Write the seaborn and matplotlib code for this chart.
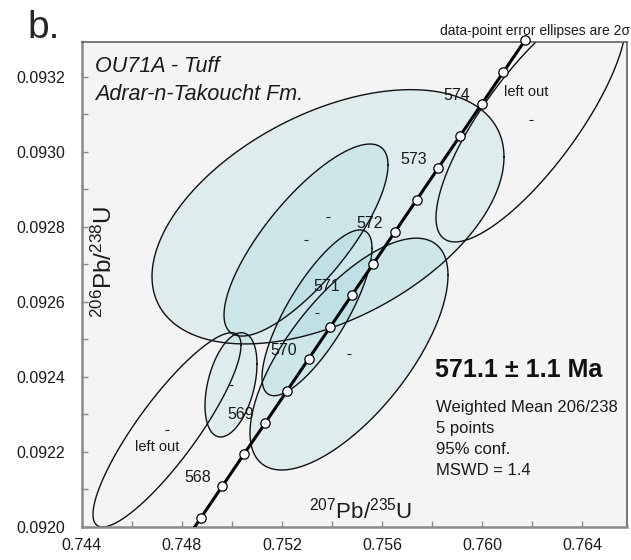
import numpy as np
import pandas as pd
import matplotlib
matplotlib.use('Agg')
import matplotlib.pyplot as plt
from matplotlib.ticker import MultipleLocator, FormatStrFormatter
import seaborn as sns

# analyses: centre, 2-sigma errors and error correlation
spot_id = ['a1', 'a2', 'a3', 'a4', 'a5', 'lo1', 'lo2']
r207_235 = [0.75384, 0.75296, 0.75468, 0.75340, 0.74996, 0.76196, 0.74740]
r206_238 = [0.092827, 0.092765, 0.092461, 0.092571, 0.092379, 0.093085, 0.092259]
err_207 = [0.00704, 0.00328, 0.00396, 0.00220, 0.00104, 0.00380, 0.00296]
err_206 = [0.000339, 0.000256, 0.000309, 0.000221, 0.000139, 0.000325, 0.000259]
rho = [0.47, 0.78, 0.68, 0.78, 0.40, 0.80, 0.87]
used = [True, True, True, True, True, False, False]

# concordia points (Ma)
conc_age = [567.0, 567.5, 568.0, 568.5, 569.0, 569.5, 570.0, 570.5, 571.0,
            571.5, 572.0, 572.5, 573.0, 573.5, 574.0, 574.5, 575.0, 575.5]
conc_207 = [0.747889, 0.748752, 0.749613, 0.750475, 0.751337, 0.752200, 0.753063, 0.753926, 0.754790,
            0.755654, 0.756519, 0.757384, 0.758249, 0.759115, 0.759981, 0.760847, 0.761714, 0.762581]
conc_206 = [0.091939, 0.092024, 0.092109, 0.092194, 0.092278, 0.092363, 0.092448, 0.092533, 0.092618,
            0.092702, 0.092787, 0.092872, 0.092957, 0.093042, 0.093127, 0.093212, 0.093297, 0.093382]
label_ages = [568, 569, 570, 571, 572, 573, 574]

sns.set_style('ticks')
plt.rcParams['font.family'] = ['Liberation Sans', 'DejaVu Sans']
plt.rcParams['mathtext.fontset'] = 'custom'
plt.rcParams['mathtext.rm'] = 'Liberation Sans'
plt.rcParams['mathtext.it'] = 'Liberation Sans:italic'

fig = plt.figure(figsize=(6.31, 5.6), dpi=100)
ax = fig.add_axes([82 / 631, 33 / 560, 545 / 631, 485 / 560])
ax.set_facecolor('#f4f4f4')

t = np.linspace(0, 2 * np.pi, 300)
shapes = []
for i in range(len(spot_id)):
    ex = r207_235[i] + err_207[i] * np.cos(t)
    ey = r206_238[i] + err_206[i] * (rho[i] * np.cos(t) + np.sqrt(1 - rho[i] ** 2) * np.sin(t))
    shapes.append((ex, ey))

for i, (ex, ey) in enumerate(shapes):
    if used[i]:
        ax.fill(ex, ey, facecolor='#80ccd3', alpha=0.18, lw=0, zorder=1)
for i, (ex, ey) in enumerate(shapes):
    ax.plot(ex, ey, color='#111111', lw=1.0, zorder=2)

# small centre marks
sns.scatterplot(x=r207_235, y=r206_238, marker='_', s=12, color='#222222',
                linewidth=0.8, ax=ax, zorder=3, legend=False)

conc = pd.DataFrame({'age': conc_age, 'x': conc_207, 'y': conc_206})
sns.lineplot(data=conc, x='x', y='y', sort=False, color='black', lw=2.2,
             ax=ax, zorder=4, legend=False)
ticks = conc[(conc.age >= 567.5) & (conc.age <= 575.0)]
sns.scatterplot(data=ticks, x='x', y='y', s=45, color='white', edgecolor='black',
                linewidth=0.9, ax=ax, zorder=5, legend=False, clip_on=False)

for a in label_ages:
    row = conc[conc.age == a].iloc[0]
    ax.annotate(str(a), (row.x, row.y), xytext=(-18, 6), textcoords='offset points',
                ha='center', va='center', fontsize=11.5, color='#1a1a1a', zorder=6)

ax.text(r207_235[5] - 0.0002, r206_238[5] + 0.000075, 'left out', fontsize=10.5,
        ha='center', va='center', color='#1a1a1a')
ax.text(r207_235[6] - 0.0004, r206_238[6] - 0.000045, 'left out', fontsize=10.5,
        ha='center', va='center', color='#1a1a1a')

ax.set_xlim(0.744, 0.7658)
ax.set_ylim(0.0920, 0.093293)
ax.xaxis.set_major_locator(MultipleLocator(0.004))
ax.xaxis.set_minor_locator(MultipleLocator(0.002))
ax.yaxis.set_major_locator(MultipleLocator(0.0002))
ax.yaxis.set_minor_locator(MultipleLocator(0.0001))
ax.xaxis.set_major_formatter(FormatStrFormatter('%.3f'))
ax.yaxis.set_major_formatter(FormatStrFormatter('%.4f'))
ax.tick_params(which='both', direction='in', length=4, width=1, color='#8a8a8a',
               labelsize=11.5, labelcolor='#1a1a1a')
ax.tick_params(axis='y', pad=12)
ax.tick_params(axis='x', pad=8)
ax.set_xlabel('')
ax.set_ylabel('')
for s in ['left', 'bottom']:
    ax.spines[s].set_color('#8a8a8a')
    ax.spines[s].set_linewidth(1.8)
for s in ['top', 'right']:
    ax.spines[s].set_color('#555555')
    ax.spines[s].set_linewidth(1.1)

fig.text(361 / 631, 1 - 518 / 560, r'$^{207}$Pb/$^{235}$U', fontsize=16,
         ha='center', va='baseline', color='#1a1a1a')
fig.text(104 / 631, 1 - 262 / 560, r'$^{206}$Pb/$^{238}$U', fontsize=17.5,
         ha='center', va='center', rotation=90, color='#1a1a1a')

fig.text(27 / 631, 1 - 38 / 560, 'b.', fontsize=28, ha='left', va='baseline')
fig.text(630 / 631, 1 - 35 / 560, 'data-point error ellipses are 2σ', fontsize=10,
         ha='right', va='baseline', color='#1a1a1a')
fig.text(95 / 631, 1 - 72 / 560, 'OU71A - Tuff', fontsize=15.5, style='italic',
         ha='left', va='baseline', color='#1a1a1a')
fig.text(95 / 631, 1 - 100 / 560, 'Adrar-n-Takoucht Fm.', fontsize=15.5, style='italic',
         ha='left', va='baseline', color='#1a1a1a')

fig.text(435 / 631, 1 - 377 / 560, '571.1 ± 1.1 Ma', fontsize=18, fontweight='bold',
         ha='left', va='baseline', color='#111111')
info = ['Weighted Mean 206/238', '5 points', '95% conf.', 'MSWD = 1.4']
for k, line in enumerate(info):
    fig.text(436 / 631, 1 - (412 + 21 * k) / 560, line, fontsize=12,
             ha='left', va='baseline', color='#1a1a1a')

fig.savefig('out.png', dpi=100)
